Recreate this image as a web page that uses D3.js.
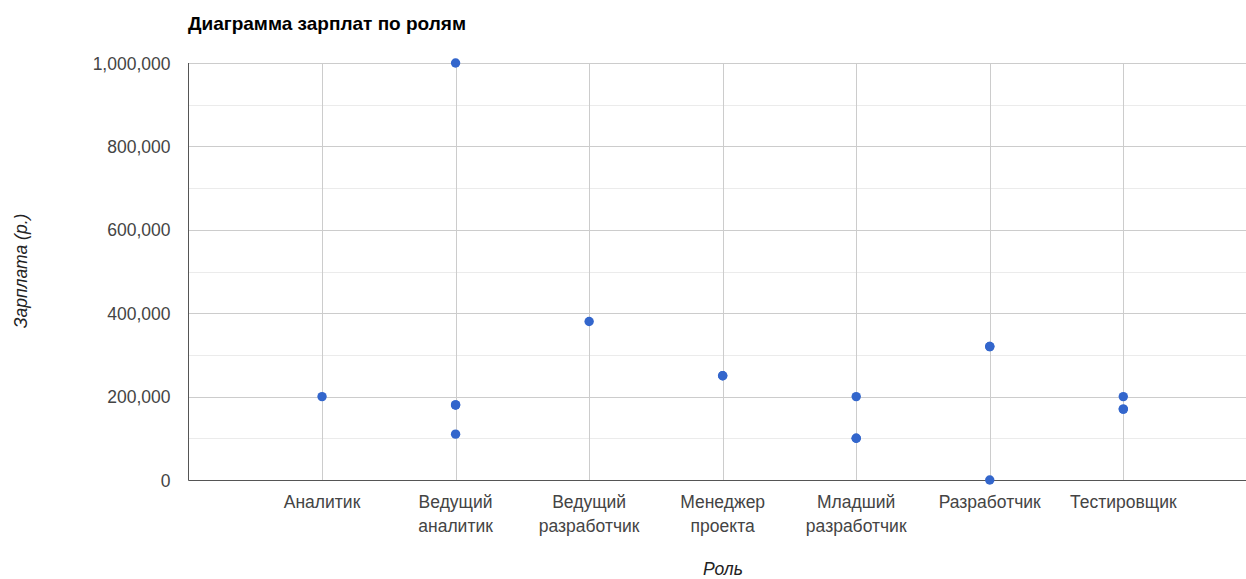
<!DOCTYPE html>
<html><head><meta charset="utf-8">
<script src="https://cdn.jsdelivr.net/npm/d3@7"></script>
<style>body{margin:0;background:#fff}svg{display:block;font-family:Arial,"Liberation Sans",sans-serif}</style>
</head><body>
<svg id="c" width="1246" height="579"></svg>
<script>
const categories = [["Аналитик"],["Ведущий","аналитик"],["Ведущий","разработчик"],["Менеджер","проекта"],["Младший","разработчик"],["Разработчик"],["Тестировщик"]];
const pointCategory = [0,1,1,1,1,2,3,3,4,4,4,5,5,5,6,6,6];
const pointSalary   = [200000,1000000,180000,180000,110000,380000,250000,250000,200000,100000,100000,320000,320000,0,200000,170000,170000];
const yTicks = [0,200000,400000,600000,800000,1000000];
const yMinor = [100000,300000,500000,700000,900000];

const svg = d3.select("#c");
const L = 188.5, R = 1246, T = 63, B = 480;
const x = d3.scaleLinear().domain([-1,6]).range([L,1123.3]);
const y = d3.scaleLinear().domain([0,1000000]).range([B,T]);

// minor gridlines
svg.append("g").selectAll("line").data(yMinor).join("line")
  .attr("x1",L).attr("x2",R).attr("y1",d=>Math.round(y(d))+0.5).attr("y2",d=>Math.round(y(d))+0.5)
  .attr("stroke","#ebebeb");
// major gridlines
svg.append("g").selectAll("line").data(yTicks.slice(1)).join("line")
  .attr("x1",L).attr("x2",R).attr("y1",d=>Math.round(y(d))+0.5).attr("y2",d=>Math.round(y(d))+0.5)
  .attr("stroke","#cccccc");
// vertical gridlines
svg.append("g").selectAll("line").data(categories).join("line")
  .attr("x1",(d,i)=>Math.round(x(i))+0.5).attr("x2",(d,i)=>Math.round(x(i))+0.5)
  .attr("y1",T).attr("y2",B).attr("stroke","#cccccc");

// axes lines
svg.append("line").attr("x1",L).attr("x2",L).attr("y1",T).attr("y2",B+0.5).attr("stroke","#555");
svg.append("line").attr("x1",L).attr("x2",R).attr("y1",B+0.5).attr("y2",B+0.5).attr("stroke","#555");

// y tick labels via axis
const yAxis = d3.axisLeft(y).tickValues(yTicks).tickSize(0).tickPadding(0).tickFormat(d3.format(","));
const ga = svg.append("g").attr("transform",`translate(${L-18},0)`).call(yAxis);
ga.select(".domain").remove();
ga.selectAll("text").attr("font-size",17.5).attr("fill","#444").attr("font-family","Arial, 'Liberation Sans', sans-serif").attr("dy","0.35em");

// x labels
const xl = svg.append("g").selectAll("text").data(categories).join("text")
  .attr("x",(d,i)=>x(i)).attr("y",508).attr("text-anchor","middle")
  .attr("font-size",17.5).attr("fill","#444");
xl.each(function(d){
  const t=d3.select(this);
  d.forEach((s,j)=>t.append("tspan").attr("x",t.attr("x")).attr("dy",j?23.5:0).text(s));
});

// points
svg.append("g").selectAll("circle").data(pointSalary).join("circle")
  .attr("cx",(d,i)=>x(pointCategory[i])).attr("cy",d=>y(d)).attr("r",4.7)
  .attr("fill","#3366cc");

// titles
svg.append("text").attr("x",188).attr("y",30).attr("font-size",19).attr("font-weight","bold").attr("fill","#000").text("Диаграмма зарплат по ролям");
svg.append("text").attr("transform","translate(27,271) rotate(-90)").attr("text-anchor","middle")
  .attr("font-size",17.5).attr("font-style","italic").attr("fill","#222").text("Зарплата (р.)");
svg.append("text").attr("x",723).attr("y",575).attr("text-anchor","middle")
  .attr("font-size",17.5).attr("font-style","italic").attr("fill","#222").text("Роль");
</script>
</body></html>
